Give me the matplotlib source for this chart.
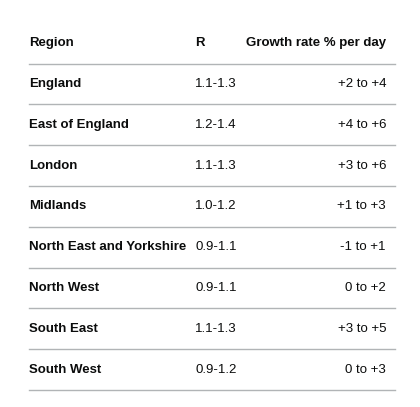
import matplotlib.pyplot as plt

regions = ['England', 'East of England', 'London', 'Midlands',
           'North East and Yorkshire', 'North West', 'South East', 'South West']
r_values = ['1.1-1.3', '1.2-1.4', '1.1-1.3', '1.0-1.2',
            '0.9-1.1', '0.9-1.1', '1.1-1.3', '0.9-1.2']
growth = ['+2 to +4', '+4 to +6', '+3 to +6', '+1 to +3',
          '-1 to +1', '0 to +2', '+3 to +5', '0 to +3']

W, H = 420, 407
fig = plt.figure(figsize=(W / 100, H / 100), dpi=100)
ax = fig.add_axes([0, 0, 1, 1])
ax.set_xlim(0, W)
ax.set_ylim(H, 0)
ax.axis('off')

plt.rcParams['font.family'] = ['Liberation Sans', 'DejaVu Sans']
fs = 9.5
x_left, x_r, x_right = 29, 195, 386
line_col = '#b1b4b6'
text_col = '#0b0c0c'

ax.text(x_left, 43, 'Region', fontsize=fs, fontweight='bold', va='center', color=text_col)
ax.text(x_r, 43, 'R', fontsize=fs, fontweight='bold', va='center', color=text_col)
ax.text(x_right, 43, 'Growth rate % per day', fontsize=fs, fontweight='bold',
        va='center', ha='right', color=text_col)
ax.plot([x_left, 395], [63.5, 63.5], color=line_col, lw=1)

row_h = 40.8
for i, (reg, r, g) in enumerate(zip(regions, r_values, growth)):
    y = 84 + i * row_h
    ax.text(x_left, y, reg, fontsize=fs, fontweight='bold', va='center', color=text_col)
    ax.text(x_r, y, r, fontsize=fs, va='center', color=text_col)
    ax.text(x_right, y, g, fontsize=fs, va='center', ha='right', color=text_col)
    yl = 63.5 + (i + 1) * row_h
    ax.plot([x_left, 395], [yl, yl], color=line_col, lw=1)

fig.savefig('out.png', dpi=100, facecolor='white')
